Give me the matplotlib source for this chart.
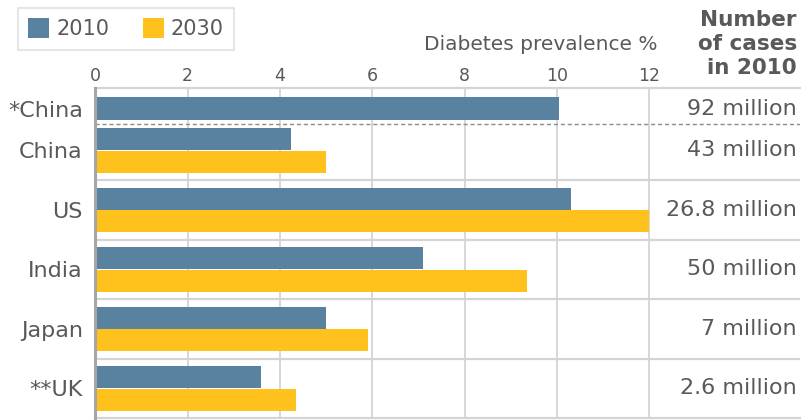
import matplotlib
matplotlib.use("Agg")
import matplotlib.pyplot as plt
import matplotlib.transforms as mtransforms
from matplotlib.patches import Patch
import numpy as np

# Diabetes prevalence (%), 2010 and projected 2030
countries = ["China", "US", "India", "Japan", "**UK"]
prev_2010 = [4.25, 10.3, 7.1, 5.0, 3.6]
prev_2030 = [5.0, 12.0, 9.35, 5.9, 4.35]
cases_2010 = ["43 million", "26.8 million", "50 million", "7 million", "2.6 million"]

# Alternative estimate for China (2010 only)
alt_label = "*China"
alt_2010 = 10.05
alt_cases = "92 million"

xticks = [0, 2, 4, 6, 8, 10, 12]

BLUE = "#58829F"
YELLOW = "#FFC11B"
TEXT = "#595959"
GRID = "#D4D4D4"

W, H = 801, 420
fig = plt.figure(figsize=(W / 100, H / 100), dpi=100)
fig.patch.set_facecolor("white")

def px(x, y):
    return x / W, 1 - y / H

ax_left, ax_right, ax_top, ax_bot = 95.3, 800, 88, 418.2
ax = fig.add_axes([ax_left / W, 1 - ax_bot / H, (ax_right - ax_left) / W, (ax_bot - ax_top) / H])

unit = 46.15  # pixels per percentage point
ax.set_xlim(0, (ax_right - ax_left) / unit)
row_px = 59.5
ax.set_ylim((ax_bot - ax_top) / row_px, 0)

# row layout
alt_center = 0.345
alt_height = 0.387
row_centers = np.arange(len(countries)) + 1.05
bar_h = 0.375
offset = 0.19

ax.barh(alt_center, alt_2010, height=alt_height, color=BLUE, zorder=3)
ax.barh(row_centers - offset, prev_2010, height=bar_h, color=BLUE, zorder=3)
ax.barh(row_centers + offset, prev_2030, height=bar_h, color=YELLOW, zorder=3)

# vertical grid
for t in xticks[1:]:
    ax.axvline(t, color=GRID, lw=1.3, zorder=1)

# row separators
ax.axhline(0.605, color="#8C8C8C", lw=1.0, ls=(0, (3, 2)), zorder=2)
for c in row_centers[:-1]:
    ax.axhline(c + 0.5, color=GRID, lw=1.6, zorder=2)

# spines
for s in ["top", "bottom"]:
    ax.spines[s].set_color(GRID)
    ax.spines[s].set_linewidth(1.6)
ax.spines["right"].set_visible(False)
ax.spines["left"].set_color("#A6A6A6")
ax.spines["left"].set_linewidth(2.2)
ax.spines["left"].set_zorder(4)

# ticks
ax.xaxis.tick_top()
ax.set_xticks(xticks)
ax.set_xticklabels([str(t) for t in xticks])
ax.tick_params(axis="x", length=0, pad=2.5, labelsize=12.5, labelcolor=TEXT)
ax.set_yticks([alt_center] + list(row_centers))
ax.set_yticklabels([alt_label] + countries)
ax.tick_params(axis="y", length=0, pad=9, labelsize=16, labelcolor=TEXT)

# number of cases column
trans = mtransforms.blended_transform_factory(ax.transAxes, ax.transData)
xr = 1 - 3 / (ax_right - ax_left)
ax.text(xr, alt_center, alt_cases, transform=trans, ha="right", va="center",
        fontsize=16, color=TEXT)
for c, lab in zip(row_centers, cases_2010):
    ax.text(xr, c, lab, transform=trans, ha="right", va="center", fontsize=16, color=TEXT)

# headers
fig.text(*px(658, 44), "Diabetes prevalence %", ha="right", va="center",
         fontsize=14.5, color=TEXT)
fig.text(*px(797, 44), "Number\nof cases\nin 2010", ha="right", va="center",
         ma="right", fontsize=15.5, fontweight="bold", color=TEXT, linespacing=1.22)

# legend
handles = [Patch(facecolor=BLUE, edgecolor="none", label="2010"),
           Patch(facecolor=YELLOW, edgecolor="none", label="2030")]
leg = fig.legend(handles=handles, loc="upper left", bbox_to_anchor=px(18, 8),
                 borderaxespad=0, ncol=2, fontsize=15, frameon=True, fancybox=False,
                 edgecolor="#D8D8D8", handlelength=1.0, handleheight=1.1,
                 handletextpad=0.35, columnspacing=1.6, borderpad=0.5)
leg.get_frame().set_linewidth(1.2)
for t in leg.get_texts():
    t.set_color(TEXT)

fig.savefig("out.png", dpi=100, facecolor="white")
